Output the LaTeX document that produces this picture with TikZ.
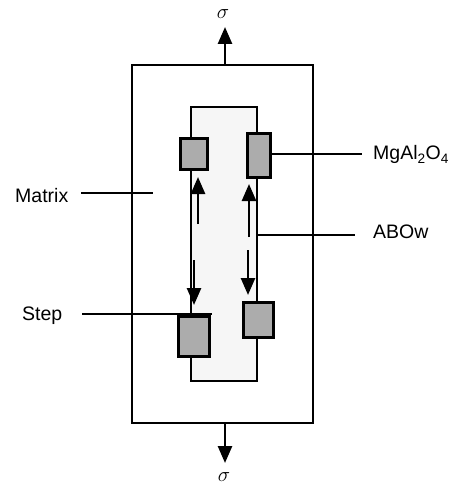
\documentclass[tikz,border=0pt]{standalone}
\usepackage{fontspec}
\setmainfont{Liberation Sans}
\usetikzlibrary{arrows.meta}
\begin{document}
\begin{tikzpicture}[x=1pt,y=-1pt,
  frame/.style={draw,line width=2.4pt,inner sep=0pt},
  grainbox/.style={draw,line width=3pt,fill=gray!65,inner sep=0pt},
  lead/.style={line width=2pt},
  flow/.style={line width=2.6pt,-{Triangle[width=14pt,length=17pt]}},
  lbl/.style={font=\fontsize{19.5}{22}\selectfont,inner sep=0pt},
  sig/.style={font=\fontsize{21}{22}\selectfont,inner sep=0pt}]
\useasboundingbox (0,0) rectangle (463,489);
% matrix and grain
\node[frame,minimum width=181pt,minimum height=358pt] (outer) at (222.5,244) {};
\node[frame,fill=gray!7,minimum width=66pt,minimum height=274pt] (grain) at (224,244) {};
% spinel particles
\node[grainbox,minimum width=27pt,minimum height=30pt] (tl) at (193.5,154) {};
\node[grainbox,minimum width=23pt,minimum height=43pt] (tr) at (258.5,155.5) {};
\node[grainbox,minimum width=31pt,minimum height=40pt] (bl) at (193.5,336) {};
\node[grainbox,minimum width=30pt,minimum height=35pt] (br) at (258,319.5) {};
% stress arrows
\coordinate (topbase) at (225,65);
\coordinate (toptip) at (225,27);
\coordinate (botbase) at (225,423);
\coordinate (bottip) at (225,463);
\draw[flow] (topbase) -- (toptip);
\draw[flow] (botbase) -- (bottip);
\node[sig] (sigtop) at (223,14) {$\sigma$};
\node[sig] (sigbot) at (224,477) {$\sigma$};
% migration arrows
\coordinate (lua) at (198,224); \coordinate (lub) at (198,177);
\coordinate (lda) at (194,260); \coordinate (ldb) at (194,305);
\coordinate (rua) at (249,237); \coordinate (rub) at (249,184);
\coordinate (rda) at (248,250); \coordinate (rdb) at (248,295);
\draw[flow] (lua) -- (lub);
\draw[flow] (lda) -- (ldb);
\draw[flow] (rua) -- (rub);
\draw[flow] (rda) -- (rdb);
% labels
\node[lbl,anchor=base west] (matrixlbl) at (15,202) {Matrix};
\node[lbl,anchor=base west] (mgal) at (373,160) {MgAl\textsubscript{2}O\textsubscript{4}};
\node[lbl,anchor=base west] (abow) at (373,238) {ABOw};
\node[lbl,anchor=base west] (steplbl) at (22,320) {Step};
% leader lines
\coordinate (ms) at (81,193); \coordinate (me) at (153,193);
\draw[lead] (ms) -- (me);
\coordinate (mge) at (362,154);
\draw[lead] (tr.east |- mge) -- (mge);
\coordinate (abe) at (355,235);
\draw[lead] (grain.east |- abe) -- (abe);
\coordinate (ss) at (82,314); \coordinate (se) at (212,314);
\draw[lead] (ss) -- (se);
\end{tikzpicture}
\end{document}
